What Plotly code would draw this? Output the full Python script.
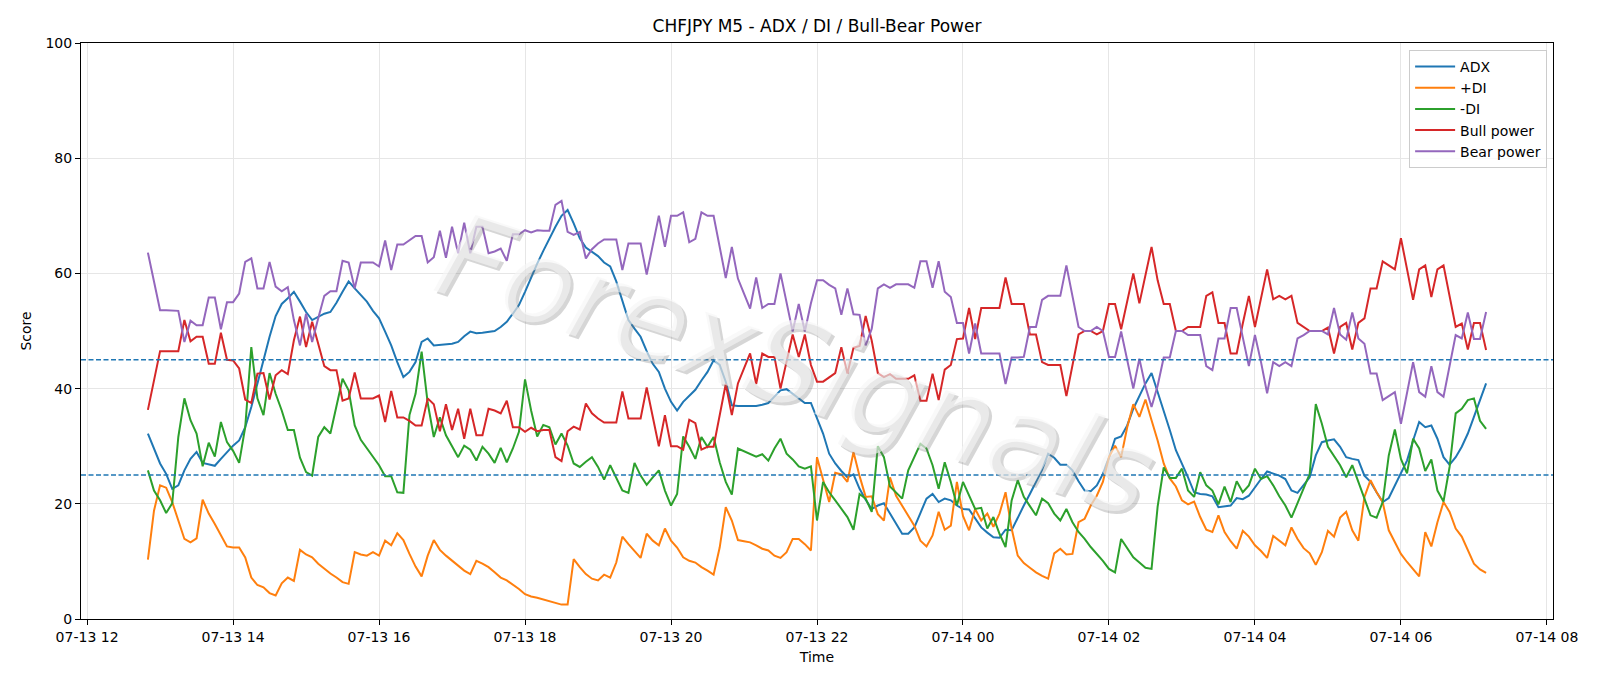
import pandas as pd
import plotly.graph_objects as go

# ---------------- data ----------------
start_time = "2025-07-13 12:50"
n_bars = 221
times = pd.date_range(start_time, periods=n_bars, freq="5min")

adx = [
    32.2, 29.6, 27.0, 25.2, 22.6, 23.2, 25.8, 27.8, 29.0, 27.1, 26.9, 26.6, 27.8, 29.0, 30.1, 31.0, 33.3, 36.8, 40.9, 44.9, 49.0, 52.6, 54.7, 55.7, 56.8, 55.1, 53.3,
    51.9, 52.5, 53.0, 53.3, 54.9, 56.8, 58.6, 57.4, 56.2, 55.1, 53.5, 52.2, 49.9, 47.5, 44.6, 42.0, 42.9, 44.6, 48.1, 48.7, 47.5, 47.6, 47.7, 47.8, 48.1, 49.1, 49.9, 49.6,
    49.7, 49.9, 50.0, 50.7, 51.6, 53.0, 54.5, 56.8, 59.4, 61.7, 63.9, 66.1, 68.1, 70.0, 71.0, 68.7, 66.1, 64.5, 63.8, 63.0, 61.9, 61.2, 58.6, 55.1, 51.9, 50.4, 49.0, 46.5,
    44.3, 42.9, 40.0, 37.7, 36.2, 37.7, 38.8, 39.8, 41.4, 42.9, 44.9, 44.1, 41.2, 37.1, 37.0, 37.0, 37.0, 37.0, 37.2, 37.5, 38.6, 39.7, 39.9, 39.1, 38.3, 37.5, 37.5, 35.0,
    32.2, 28.7, 27.0, 25.7, 24.6, 25.1, 22.6, 20.7, 19.1, 19.7, 20.1, 18.3, 16.5, 14.8, 14.8, 15.9, 18.4, 20.9, 21.7, 20.3, 20.9, 20.6, 19.7, 19.1, 19.0, 17.4, 15.9, 15.0,
    14.2, 14.1, 15.5, 15.4, 17.7, 19.7, 21.7, 23.8, 25.9, 28.7, 28.0, 26.8, 26.8, 25.8, 23.9, 22.3, 22.2, 23.2, 25.2, 28.0, 31.3, 31.7, 33.6, 36.5, 38.8, 40.9, 42.7, 39.5,
    36.2, 32.8, 29.3, 27.0, 24.6, 22.0, 21.7, 21.6, 21.3, 19.4, 19.5, 19.7, 21.0, 20.8, 21.4, 22.9, 24.3, 25.6, 25.3, 24.9, 24.3, 22.3, 21.9, 23.2, 24.6, 28.4, 30.7,
    31.0, 31.2, 29.9, 28.1, 27.8, 27.6, 24.9, 23.8, 22.0, 20.3, 21.0, 23.2, 25.2, 27.5, 31.0, 34.2, 33.3, 33.6, 31.3, 28.1, 26.8, 28.1, 29.9, 32.2, 35.1, 38.0, 40.9,
]

plus_di = [
    10.3, 18.8, 23.2, 22.8, 20.3, 17.1, 13.9, 13.3, 14.0, 20.7, 18.3, 16.5, 14.5, 12.6, 12.4, 12.4, 10.7, 7.2, 5.9, 5.5, 4.5, 4.1, 6.2, 7.2, 6.6, 12.0, 11.2,
    10.7, 9.6, 8.7, 7.9, 7.2, 6.4, 6.1, 11.6, 11.2, 11.0, 11.6, 11.0, 13.6, 12.8, 14.9, 13.7, 11.3, 9.1, 7.4, 11.0, 13.7, 12.0, 11.0, 10.1, 9.3, 8.4, 7.8, 10.1,
    9.6, 9.0, 8.1, 7.2, 6.7, 6.0, 5.2, 4.3, 3.9, 3.7, 3.4, 3.1, 2.7, 2.5, 2.5, 10.4, 9.0, 7.8, 7.0, 6.7, 7.7, 7.2, 9.8, 14.3, 13.0, 11.8, 10.6, 14.8,
    13.6, 12.8, 15.7, 13.6, 12.4, 10.7, 10.1, 9.8, 9.0, 8.4, 7.7, 12.4, 19.4, 17.1, 13.7, 13.5, 13.3, 12.8, 12.2, 11.9, 11.0, 10.6, 11.6, 13.9, 13.9, 13.0, 11.9, 28.1,
    24.1, 20.3, 25.4, 25.1, 23.8, 29.0, 24.8, 21.2, 21.3, 18.2, 17.1, 24.6, 21.4, 19.7, 18.0, 16.2, 13.6, 12.6, 14.5, 18.6, 15.5, 16.2, 23.8, 17.9, 15.4, 19.1, 17.1, 18.3,
    16.0, 18.3, 22.0, 15.7, 11.0, 9.7, 8.9, 8.1, 7.5, 7.0, 11.4, 12.2, 11.2, 11.3, 16.8, 17.4, 19.7, 21.4, 23.8, 28.1, 30.1, 28.1, 33.3, 37.3, 35.1, 38.1, 34.5, 31.0,
    27.0, 24.4, 23.0, 20.6, 19.9, 20.4, 17.7, 15.5, 15.1, 18.0, 15.1, 13.5, 12.2, 15.3, 14.3, 12.8, 11.8, 10.6, 14.4, 13.6, 12.8, 15.9, 13.9, 12.3, 11.4, 9.4, 11.6,
    15.3, 14.3, 17.6, 18.6, 15.4, 13.6, 21.2, 24.1, 22.0, 20.3, 15.4, 13.3, 11.3, 9.9, 8.6, 7.4, 15.1, 12.6, 16.8, 20.3, 18.6, 15.7, 14.3, 11.9, 9.6, 8.6, 8.0,
]

minus_di = [
    25.8, 22.3, 20.6, 18.4, 20.1, 31.6, 38.3, 34.5, 32.2, 26.5, 30.6, 28.2, 34.2, 30.7, 29.2, 27.1, 33.3, 47.2, 38.3, 35.4, 42.7, 39.1, 36.2, 32.8, 32.8, 28.0, 25.5,
    24.9, 31.6, 33.3, 32.2, 36.8, 41.7, 39.7, 33.6, 31.1, 29.6, 28.1, 26.7, 24.8, 24.8, 22.0, 21.9, 35.4, 39.1, 46.4, 37.5, 31.6, 35.0, 31.9, 29.9, 28.1, 30.1, 29.4, 27.5,
    29.9, 28.7, 27.1, 29.7, 27.2, 29.6, 32.5, 41.6, 36.2, 31.7, 33.7, 33.3, 30.3, 32.2, 30.1, 27.0, 26.4, 27.3, 28.1, 26.4, 24.2, 26.7, 24.6, 22.3, 21.9, 27.1, 24.9, 23.3,
    24.6, 25.8, 22.3, 19.7, 21.7, 31.7, 29.9, 27.8, 31.6, 29.9, 31.6, 27.2, 23.8, 21.6, 29.6, 29.1, 28.7, 28.2, 28.6, 27.5, 29.6, 31.3, 28.7, 27.7, 26.5, 26.1, 26.5, 17.1,
    23.8, 22.0, 20.6, 19.1, 17.7, 15.5, 21.7, 20.9, 18.6, 30.0, 28.1, 23.0, 22.0, 20.9, 25.8, 28.1, 30.4, 29.6, 26.7, 22.6, 27.2, 23.8, 19.7, 23.8, 21.4, 19.1, 19.3, 15.7,
    17.7, 14.8, 12.5, 20.6, 24.1, 21.2, 19.6, 18.0, 20.9, 20.1, 18.3, 17.1, 19.1, 16.8, 15.1, 13.9, 12.5, 11.3, 10.1, 8.7, 8.1, 13.9, 12.2, 10.7, 9.8, 8.9, 8.7, 19.5,
    26.3, 24.5, 24.5, 26.1, 22.3, 21.2, 25.5, 23.2, 22.3, 19.9, 23.0, 20.3, 23.9, 22.0, 23.2, 26.1, 24.3, 24.8, 23.2, 21.3, 19.7, 17.6, 20.1, 22.6, 25.2, 37.3, 33.9,
    29.9, 28.4, 26.7, 24.6, 26.7, 23.8, 20.9, 18.0, 17.6, 20.3, 28.4, 32.9, 27.8, 25.3, 31.3, 29.6, 25.7, 27.7, 22.3, 20.4, 26.4, 35.7, 36.5, 38.0, 38.3, 34.4, 33.0,
]

bull_power = [
    36.3, 41.4, 46.5, 46.5, 46.5, 46.5, 51.9, 48.2, 49.0, 49.0, 44.3, 44.3, 49.7, 45.0, 44.9, 43.5, 38.1, 37.5, 42.6, 42.7, 38.1, 42.3, 43.2, 42.5, 48.4, 52.5, 47.2,
    51.6, 47.8, 43.9, 43.2, 43.2, 37.9, 38.3, 42.8, 38.3, 38.3, 38.3, 38.8, 34.2, 39.6, 35.0, 35.0, 34.4, 33.6, 33.6, 38.3, 37.3, 32.6, 37.3, 32.8, 36.5, 31.3, 36.5, 31.9,
    31.9, 36.5, 36.2, 35.7, 37.9, 33.3, 33.3, 32.5, 33.2, 32.6, 32.8, 32.8, 28.1, 27.4, 32.6, 33.4, 32.9, 37.4, 35.7, 34.8, 34.1, 34.1, 34.1, 39.5, 34.8, 34.8, 34.8, 40.2,
    35.1, 30.0, 35.4, 30.0, 30.0, 29.4, 34.6, 34.0, 29.4, 29.9, 29.9, 35.1, 40.8, 35.4, 40.9, 43.5, 46.1, 40.8, 46.1, 45.5, 45.5, 40.0, 44.9, 49.4, 45.5, 49.4, 44.1, 41.2,
    41.2, 41.9, 42.7, 47.2, 42.6, 47.1, 47.4, 52.6, 48.3, 42.7, 42.0, 42.5, 41.7, 41.7, 41.7, 42.3, 37.9, 37.9, 42.6, 38.0, 43.3, 44.1, 48.6, 48.7, 54.0, 48.6, 54.0, 54.0,
    54.0, 54.0, 59.3, 54.7, 54.7, 54.7, 49.4, 49.4, 44.6, 44.1, 44.1, 44.1, 38.7, 44.1, 49.4, 50.0, 50.0, 49.4, 50.0, 54.7, 54.7, 50.3, 55.2, 60.0, 54.8, 59.9, 64.6, 58.8,
    54.7, 54.7, 50.0, 50.0, 50.7, 50.7, 50.7, 56.1, 56.7, 51.4, 51.4, 46.1, 46.1, 51.3, 56.1, 50.7, 55.7, 60.7, 55.5, 56.1, 55.5, 56.1, 51.4, 50.7, 50.0, 50.0, 50.0,
    50.6, 46.1, 50.7, 51.4, 46.8, 51.4, 52.2, 57.4, 57.4, 62.1, 61.4, 60.7, 66.1, 60.7, 55.4, 60.7, 61.4, 55.9, 60.7, 61.4, 56.2, 50.7, 51.3, 46.8, 51.4, 51.4, 46.7,
]

bear_power = [
    63.6, 58.8, 53.6, 53.6, 53.6, 53.5, 48.1, 51.8, 51.0, 51.0, 55.8, 55.8, 50.3, 55.0, 55.0, 56.5, 62.0, 62.6, 57.4, 57.4, 62.0, 57.7, 56.9, 57.6, 51.9, 47.5, 53.0,
    48.1, 52.2, 56.1, 56.9, 56.9, 62.2, 61.9, 57.4, 61.9, 61.9, 61.9, 61.2, 65.7, 60.6, 65.0, 65.0, 65.8, 66.5, 66.5, 61.9, 62.8, 67.4, 62.7, 68.1, 63.5, 68.8, 63.5, 68.1,
    68.1, 63.5, 63.8, 64.3, 62.2, 66.8, 66.8, 67.5, 67.1, 67.5, 67.4, 67.4, 71.9, 72.6, 67.2, 66.7, 67.2, 62.6, 64.2, 65.2, 65.9, 65.9, 65.9, 60.6, 65.2, 65.2, 65.2, 59.8,
    64.9, 70.0, 64.6, 70.0, 70.0, 70.6, 65.4, 66.0, 70.6, 70.0, 70.0, 64.9, 59.2, 64.6, 59.1, 56.5, 53.9, 59.3, 54.0, 54.7, 54.7, 60.0, 55.1, 49.9, 54.7, 49.9, 54.8, 58.8,
    58.8, 58.0, 57.4, 52.8, 57.4, 52.9, 52.8, 47.5, 50.4, 57.4, 58.1, 57.5, 58.1, 58.1, 58.1, 57.5, 62.1, 62.1, 57.5, 62.1, 56.8, 55.9, 51.4, 51.4, 46.1, 51.3, 46.1, 46.1,
    46.1, 46.1, 40.8, 45.4, 45.4, 45.5, 50.7, 50.7, 55.4, 56.1, 56.1, 56.1, 61.4, 55.9, 50.7, 50.0, 50.0, 50.7, 50.0, 45.5, 45.5, 49.9, 44.9, 40.0, 45.2, 40.3, 36.8, 40.5,
    45.4, 45.4, 50.0, 50.0, 49.3, 49.3, 49.3, 43.9, 43.2, 48.7, 48.7, 54.0, 54.0, 48.9, 43.9, 49.3, 44.6, 39.2, 44.6, 43.9, 44.6, 43.9, 48.7, 49.3, 50.0, 50.0, 50.0,
    49.4, 54.0, 49.4, 48.5, 53.2, 48.7, 47.8, 42.6, 42.6, 38.0, 38.7, 39.4, 33.9, 39.2, 44.6, 39.4, 38.6, 43.9, 39.4, 38.6, 43.9, 49.3, 48.7, 53.2, 48.6, 48.6, 53.3,
]

series_names = ["ADX", "+DI", "-DI", "Bull power", "Bear power"]
thresholds = [45, 25]
y_ticks = [0, 20, 40, 60, 80, 100]
x_range = ["2025-07-13 11:55", "2025-07-14 08:05"]
title_text = "CHFJPY M5 - ADX / DI / Bull-Bear Power"
watermark_text = "ForexSignals"

# ---------------- figure ----------------
colors = ["#1f77b4", "#ff7f0e", "#2ca02c", "#d62728", "#9467bd"]
FONT = "DejaVu Sans, Arial, sans-serif"

fig = go.Figure()
for name, vals, col in zip(series_names, [adx, plus_di, minus_di, bull_power, bear_power], colors):
    fig.add_trace(go.Scatter(x=times, y=vals, mode="lines", name=name,
                             line=dict(color=col, width=2)))

for t in thresholds:
    fig.add_hline(y=t, line=dict(color="#1f77b4", width=1.4, dash="5px,2.5px"), layer="above")

# watermark: soft shadow + pale fill on top
wm_x, wm_y, wm_size, wm_angle = 0.486, 0.44, 116, 18
fig.add_annotation(text=watermark_text, xref="paper", yref="paper", x=wm_x, y=wm_y,
                   xshift=3, yshift=-3, showarrow=False, textangle=wm_angle,
                   font=dict(family=FONT, size=wm_size, color="rgba(120,120,120,0.30)", style="italic"))
fig.add_annotation(text=watermark_text, xref="paper", yref="paper", x=wm_x, y=wm_y,
                   showarrow=False, textangle=wm_angle,
                   font=dict(family=FONT, size=wm_size, color="rgba(245,245,245,0.62)", style="italic"))

axis_common = dict(showline=True, linecolor="black", linewidth=1.1, mirror=True,
                   ticks="outside", ticklen=5, tickwidth=1.1, tickcolor="black",
                   showgrid=True, gridcolor="#e6e6e6", gridwidth=1, zeroline=False,
                   tickfont=dict(family=FONT, size=14, color="black"))

fig.update_xaxes(**axis_common, type="date", range=x_range,
                 tick0="2025-07-13 12:00", dtick=2 * 3600 * 1000, tickformat="%m-%d %H",
                 title=dict(text="Time", font=dict(family=FONT, size=14, color="black"), standoff=8))
fig.update_yaxes(**axis_common, range=[0, 100], tickvals=y_ticks,
                 title=dict(text="Score", font=dict(family=FONT, size=14, color="black"), standoff=10))

fig.update_layout(
    width=1600, height=686,
    margin=dict(l=81, r=47, t=43, b=67),
    paper_bgcolor="white", plot_bgcolor="white",
    title=dict(text=title_text, x=0.5, xref="paper", xanchor="center", y=0.962, yanchor="middle",
               font=dict(family=FONT, size=17, color="black")),
    legend=dict(x=0.996, y=0.988, xanchor="right", yanchor="top",
                bgcolor="rgba(255,255,255,0.8)", bordercolor="#cccccc", borderwidth=1,
                font=dict(family=FONT, size=14, color="black"), itemwidth=40),
    showlegend=True,
)

fig.write_html("out.html")
